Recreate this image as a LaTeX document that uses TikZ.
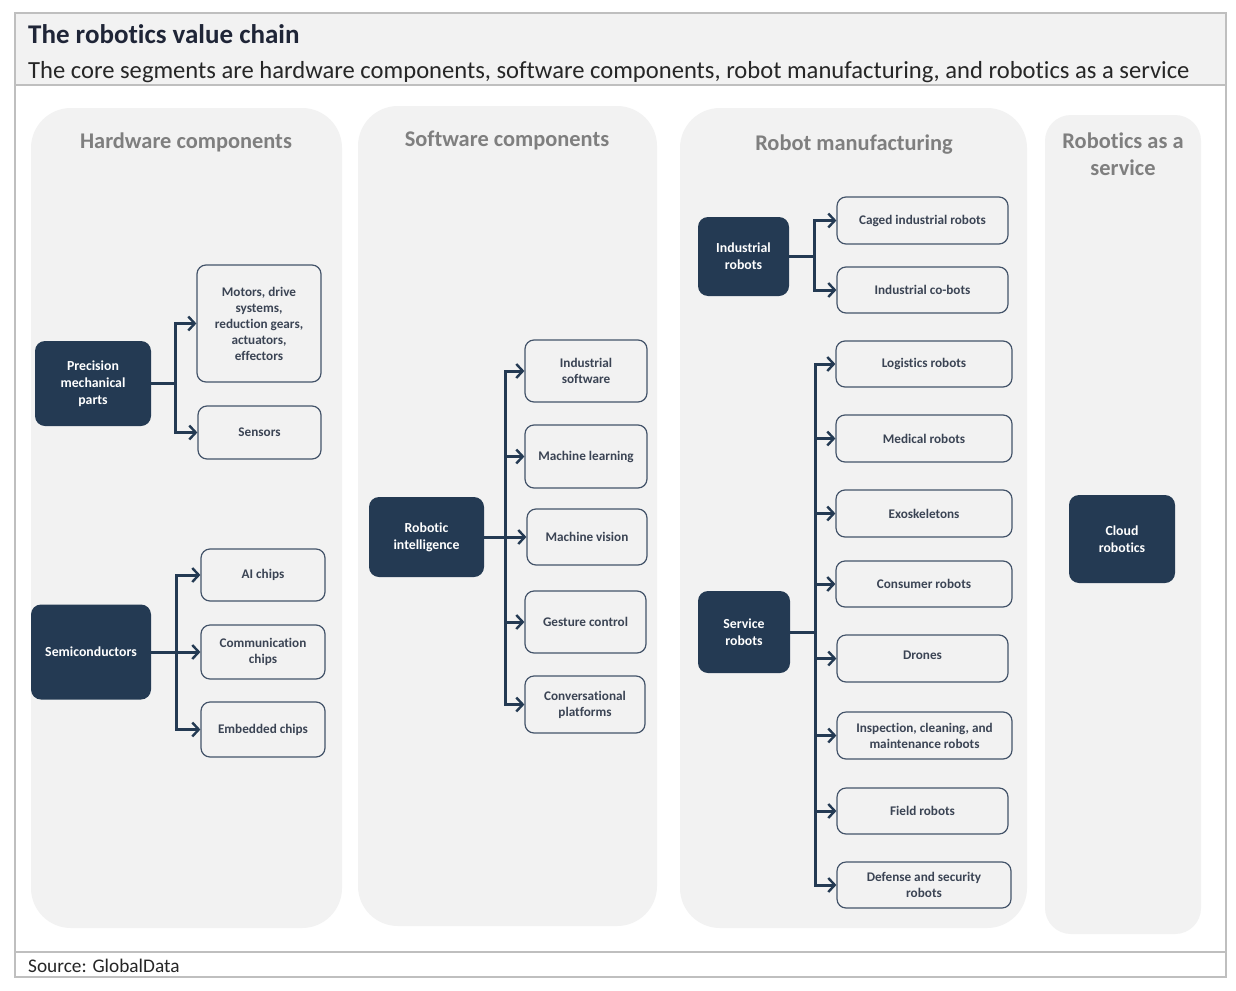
\documentclass[tikz,border=0pt]{standalone}
\usepackage{fontspec}
\setmainfont{Carlito}[Ligatures={NoCommon,NoRare,NoDiscretionary}]
\usetikzlibrary{arrows.meta}
\definecolor{navy}{HTML}{243A53}
\definecolor{panel}{HTML}{F2F2F2}
\definecolor{boxline}{HTML}{44546A}
\definecolor{boxtext}{HTML}{3B4454}
\definecolor{framec}{HTML}{BFBFBF}
\definecolor{ptitle}{HTML}{7F7F7F}
\definecolor{titlec}{HTML}{1F2537}
\definecolor{subc}{HTML}{262626}
\begin{document}
\begin{tikzpicture}[x=1pt,y=-1pt,
  darkbox/.style={draw=none, fill=navy, rounded corners=10pt, text=white,
    font=\bfseries\fontsize{13.8}{17}\selectfont, align=center, inner sep=0pt},
  litebox/.style={draw=boxline, line width=1.2pt, fill=panel, rounded corners=9pt, text=boxtext,
    font=\bfseries\fontsize{13.2}{16}\selectfont, align=center, inner sep=0pt},
  conn/.style={draw=navy, line width=3pt},
  arr/.style={conn, -{Straight Barb[length=6.5pt,width=14pt,line width=2.4pt]}},
  ptitlestyle/.style={text=ptitle, font=\bfseries\fontsize{22.4}{27}\selectfont, align=center, inner sep=0pt},
  sz/.style 2 args={minimum width=#1pt, minimum height=#2pt}
]
\useasboundingbox (0,0) rectangle (1236,990);
\fill[white] (0,0) rectangle (1236,990);
% header and frame
\fill[panel] (15,13) rectangle (1226,85);
\draw[framec, line width=1.5pt] (15,13) rectangle (1226,977);
\draw[framec, line width=1.5pt] (15,85) -- (1226,85);
\draw[framec, line width=1.5pt] (15,952) -- (1226,952);
\node[anchor=base west, inner sep=0pt, text=titlec, font=\bfseries\fontsize{27}{30}\selectfont] (title) at (28,44) {The robotics value chain};
\node[anchor=base west, inner sep=0pt, text=subc, font=\fontsize{24.6}{28}\selectfont] (subtitle) at (28,78) {The core segments are hardware components, software components, robot manufacturing, and robotics as a service};
\node[anchor=base west, inner sep=0pt, text=subc, font=\fontsize{19.3}{22}\selectfont] (source) at (28,972) {Source: GlobalData};
% panels
\fill[panel, rounded corners=40pt] (31,108) rectangle (342,928);
\fill[panel, rounded corners=40pt] (358,106) rectangle (657,926);
\fill[panel, rounded corners=40pt] (680,108) rectangle (1027,928);
\fill[panel, rounded corners=26pt] (1045,115) rectangle (1201,934);
\node[ptitlestyle, anchor=base] (t1) at (186,148) {Hardware components};
\node[ptitlestyle, anchor=base] (t2) at (507,146) {Software components};
\node[ptitlestyle, anchor=base] (t3) at (854,150) {Robot manufacturing};
\node[ptitlestyle, anchor=base] (t4a) at (1123,148) {Robotics as a};
\node[ptitlestyle, anchor=base] (t4b) at (1123,175) {service};
% hardware
\node[darkbox, sz={116}{85}] (pmp) at (93,383.5) {Precision\\mechanical\\parts};
\node[litebox, sz={124}{117}] (motors) at (259,323.5) {Motors, drive\\systems,\\reduction gears,\\actuators,\\effectors};
\node[litebox, sz={123}{53}] (sensors) at (259.5,432.5) {Sensors};
\node[darkbox, sz={120}{95}] (semi) at (91,652) {Semiconductors};
\node[litebox, sz={124}{52}] (aichips) at (263,575) {AI chips};
\node[litebox, sz={124}{54}] (comm) at (263,652) {Communication\\chips};
\node[litebox, sz={124}{55}] (embed) at (263,729.5) {Embedded chips};
% software
\node[darkbox, sz={115}{80}] (ri) at (426.5,537) {Robotic\\intelligence};
\node[litebox, sz={122}{62}] (indsw) at (586,371) {Industrial\\software};
\node[litebox, sz={122}{63}] (ml) at (586,456.5) {Machine learning};
\node[litebox, sz={120}{56}] (mv) at (587,537) {Machine vision};
\node[litebox, sz={121}{62}] (gc) at (585.5,622) {Gesture control};
\node[litebox, sz={120}{57}] (cp) at (585,704.5) {Conversational\\platforms};
% robot manufacturing
\node[darkbox, sz={91}{79}] (ir) at (743.5,256.5) {Industrial\\robots};
\node[litebox, sz={171}{47}] (caged) at (922.5,220.5) {Caged industrial robots};
\node[litebox, sz={171}{46}] (cobots) at (922.5,290) {Industrial co-bots};
\node[darkbox, sz={92}{82}] (sr) at (744,632) {Service\\robots};
\node[litebox, sz={176}{46}] (logi) at (924,364) {Logistics robots};
\node[litebox, sz={176}{47}] (med) at (924,438.5) {Medical robots};
\node[litebox, sz={176}{47}] (exo) at (924,513.5) {Exoskeletons};
\node[litebox, sz={176}{46}] (cons) at (924,584) {Consumer robots};
\node[litebox, sz={171}{47}] (drones) at (922.5,658.5) {\raisebox{7pt}{Drones}};
\node[litebox, sz={175}{47}] (insp) at (924.5,735.5) {Inspection, cleaning, and\\maintenance robots};
\node[litebox, sz={171}{46}] (field) at (922.5,811) {Field robots};
\node[litebox, sz={174}{46}] (defn) at (924,885) {Defense and security\\robots};
% service
\node[darkbox, sz={106}{88}] (cloud) at (1122,539) {Cloud\\robotics};
% junctions
\coordinate (j1) at (175,383.5);
\coordinate (j2) at (176,652);
\coordinate (j3) at (505,537);
\coordinate (j4) at (814,256.5);
\coordinate (j5) at (815,632);
% connectors
\draw[conn] (pmp.east) -- (j1);
\draw[arr] (j1) |- (motors.west);
\draw[arr] (j1) |- (sensors.west);
\draw[conn] (semi.east) -- (j2);
\draw[arr] (j2) |- (aichips.west);
\draw[arr] (j2) |- (comm.west);
\draw[arr] (j2) |- (embed.west);
\draw[conn] (ri.east) -- (j3);
\foreach \n in {indsw,ml,mv,gc,cp} \draw[arr] (j3) |- (\n.west);
\draw[conn] (ir.east) -- (j4);
\foreach \n in {caged,cobots} \draw[arr] (j4) |- (\n.west);
\draw[conn] (sr.east) -- (j5);
\foreach \n in {logi,med,exo,cons,drones,insp,field,defn} \draw[arr] (j5) |- (\n.west);
\end{tikzpicture}
\end{document}
